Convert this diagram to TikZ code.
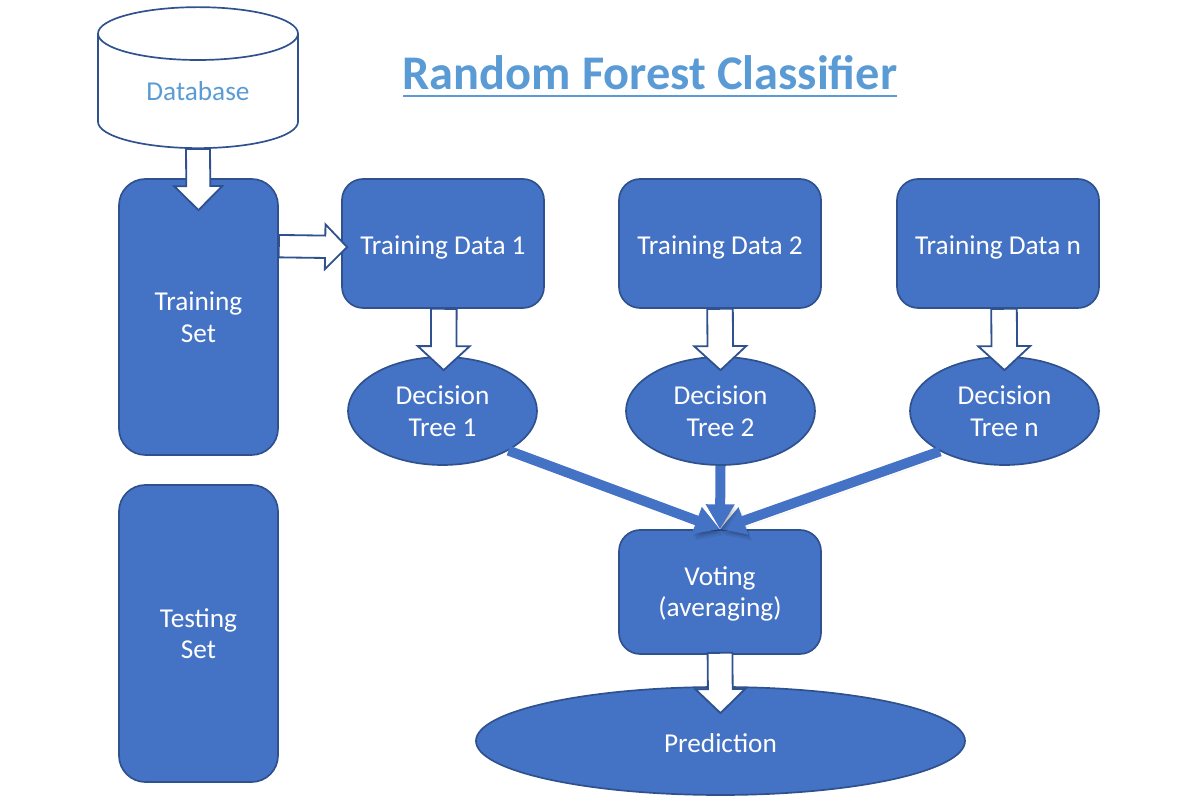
\documentclass[tikz,border=0pt]{standalone}
\usepackage{fontspec}
\setmainfont{Carlito}
\usetikzlibrary{calc, arrows.meta, shapes.geometric}

\definecolor{boxblue}{HTML}{4472C4}
\definecolor{edgeblue}{HTML}{2F528F}
\definecolor{textblue}{HTML}{5B9BD5}

\newsavebox{\titlebox}
\newcommand{\titleline}[1]{\sbox{\titlebox}{#1}\rlap{\smash{\rule[-5.2pt]{\wd\titlebox}{1.5pt}}}\usebox{\titlebox}}

\tikzset{
	boxtext/.style = {text=white, align=center, font=\fontsize{19.4}{22.3}\selectfont},
	blockbox/.style = {draw=edgeblue, fill=boxblue, line width=1.2pt, boxtext, rectangle, rounded corners=0.53cm},
	treenode/.style = {draw=edgeblue, fill=boxblue, line width=1.2pt, boxtext, ellipse, inner sep=0pt},
	%half shaft, half head, head length
	blockarrow/.style n args = {3}{draw=edgeblue, fill=white, line width=1.3pt, line join=miter, to path={
		($(\tikztostart)!#1!90:(\tikztotarget)$)
		-- ($(\tikztotarget)!#3!(\tikztostart)!#1!90:(\tikztotarget)$)
		-- ($(\tikztotarget)!#3!(\tikztostart)!#2!90:(\tikztotarget)$)
		-- (\tikztotarget)
		-- ($(\tikztotarget)!#3!(\tikztostart)!#2!-90:(\tikztotarget)$)
		-- ($(\tikztotarget)!#3!(\tikztostart)!#1!-90:(\tikztotarget)$)
		-- ($(\tikztostart)!#1!-90:(\tikztotarget)$) -- cycle}},
	votearrow/.style = {draw=boxblue, line width=0.25cm, -{Triangle[length=0.62cm, width=0.68cm]},
		preaction={draw=black, opacity=0.06, transform canvas={shift={(0.03,-0.05)}}},
		preaction={draw=black, opacity=0.06, transform canvas={shift={(0.06,-0.1)}}},
		preaction={draw=black, opacity=0.06, transform canvas={shift={(0.09,-0.15)}}}}
}

\begin{document}
\begin{tikzpicture}
	\useasboundingbox (0,0) rectangle (29.75,20.15);
	
	%title
	\node (title) at (16.25,18.33) [text=textblue, font=\fontsize{34.4}{38}\selectfont\bfseries] {\titleline{Random Forest Classifier}};
	
	%database
	\node (database) at (4.95,16.425) [anchor=south, cylinder, shape border rotate=90, shape aspect=0.47, draw=edgeblue, line width=1.2pt, fill=white, minimum width=5cm, minimum height=3.525cm, text=textblue, text depth=0.2cm, font=\fontsize{19.4}{22.3}\selectfont] {Database};
	
	%split of the data
	\node (trainset) at (4.9625,12.225) [blockbox, rounded corners=0.66cm, minimum width=3.975cm, minimum height=6.9cm, text depth=-0.05cm] {Training\\Set};
	\node (testset) at (4.9625,4.3125) [blockbox, rounded corners=0.66cm, minimum width=3.975cm, minimum height=7.425cm, text depth=-0.02cm] {Testing\\Set};
	
	%training data
	\node (data1) at (11.075,14.0625) [blockbox, minimum width=5.05cm, minimum height=3.225cm, text height=0.65cm] {Training Data 1};
	\node (data2) at (18,14.0625) [blockbox, minimum width=5.05cm, minimum height=3.225cm, text height=0.65cm] {Training Data 2};
	\node (datan) at (24.95,14.0625) [blockbox, minimum width=5.05cm, minimum height=3.225cm, text height=0.65cm] {Training Data n};
	
	%trees
	\node (tree1) at (11.0625,9.875) [treenode, minimum width=4.725cm, minimum height=2.7cm, text depth=-0.1cm] {Decision\\Tree 1};
	\node (tree2) at (18.0125,9.875) [treenode, minimum width=4.725cm, minimum height=2.7cm, text depth=-0.1cm] {Decision\\Tree 2};
	\node (treen) at (25.1125,9.875) [treenode, minimum width=4.725cm, minimum height=2.7cm, text depth=-0.1cm] {Decision\\Tree n};
	
	%result
	\node (voting) at (18,5.35) [blockbox, minimum width=5.05cm, minimum height=3.1cm, text depth=0.02cm] {Voting\\(averaging)};
	\node (prediction) at (18.0125,1.625) [treenode, minimum width=12.225cm, minimum height=2.7cm, text height=0.6cm] {Prediction};
	
	%hollow arrows
	\draw [blockarrow={0.3cm}{0.6cm}{0.6cm}] (database.south) to ($ (trainset.north) + (0,-0.8) $);
	\draw [blockarrow={0.28cm}{0.56cm}{0.55cm}] ($ (trainset.north east) + (0,-1.7) $) to ($ (data1.west) + (0.15,-0.09) $);
	\draw [blockarrow={0.32cm}{0.65cm}{0.6cm}] ($ (data1.south) + (0.02,0) $) to ($ (tree1.north) + (0.03,-0.35) $);
	\draw [blockarrow={0.32cm}{0.65cm}{0.6cm}] (data2.south) to ($ (tree2.north) + (0,-0.35) $);
	\draw [blockarrow={0.32cm}{0.65cm}{0.6cm}] ($ (datan.south) + (0.15,0) $) to ($ (treen.north) + (0,-0.35) $);
	\draw [blockarrow={0.31cm}{0.62cm}{0.6cm}] ($ (voting.south) + (0,0.05) $) to ($ (prediction.north) + (0,-0.675) $);
	
	%votes
	\draw [votearrow] (tree1.-31.5) -- (voting.north);
	\draw [votearrow] (treen.-148.5) -- (voting.north);
	\draw [votearrow] (tree2.south) -- (voting.north);
\end{tikzpicture}
\end{document}
